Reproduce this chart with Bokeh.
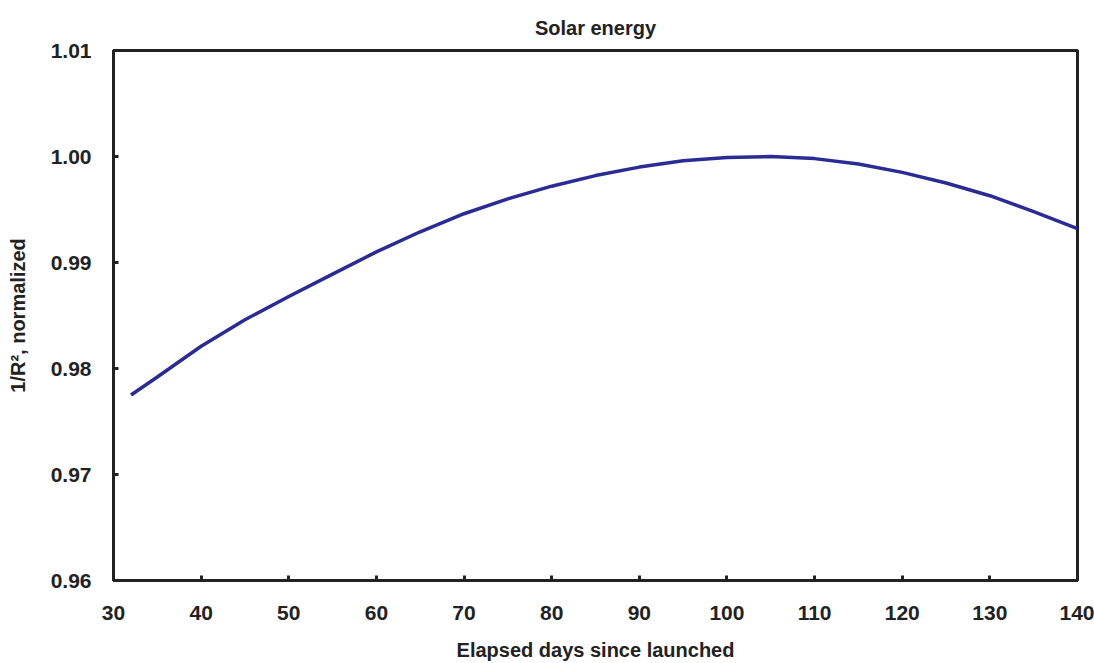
from bokeh.plotting import figure
from bokeh.models import Range1d, FixedTicker
from bokeh.embed import file_html
from bokeh.resources import INLINE

# Data
days = [32.0, 35, 40, 45, 50, 55, 60, 65, 70, 75, 80, 85, 90, 95, 100,
        105, 110, 115, 120, 125, 130, 135, 140]
solar = [0.9775, 0.9792, 0.9821, 0.9846, 0.9868, 0.9889, 0.9910, 0.9929,
         0.9946, 0.9960, 0.9972, 0.9982, 0.9990, 0.9996, 0.9999,
         1.0000, 0.9998, 0.9993, 0.9985, 0.9975, 0.9963, 0.9948, 0.9932]
x_ticks = [30, 40, 50, 60, 70, 80, 90, 100, 110, 120, 130, 140]
y_ticks = [0.96, 0.97, 0.98, 0.99, 1.00, 1.01]
y_labels = {0.96: "0.96", 0.97: "0.97", 0.98: "0.98", 0.99: "0.99", 1.00: "1.00", 1.01: "1.01"}

FONT = "Liberation Sans"

p = figure(width=1094, height=663, output_backend="svg", toolbar_location=None,
           x_range=Range1d(30, 140), y_range=Range1d(0.96, 1.01),
           min_border_left=113, min_border_right=17, min_border_top=50,
           min_border_bottom=83, title="Solar energy")

p.line(days, solar, line_color="#2b2b95", line_width=3.5, line_join="round")

p.title.align = "center"
p.title.text_font = FONT
p.title.text_font_size = "20px"
p.title.text_font_style = "bold"
p.title.text_color = "#222222"
p.title.standoff = 24

p.grid.visible = False
p.outline_line_color = "#222222"
p.outline_line_width = 3
p.outline_line_alpha = 1.0
p.background_fill_color = "white"
p.border_fill_color = "white"

for ax in (p.xaxis[0], p.yaxis[0]):
    ax.axis_line_color = "#222222"
    ax.axis_line_width = 3
    ax.major_tick_line_color = "#222222"
    ax.major_tick_line_width = 3
    ax.major_tick_in = 5
    ax.major_tick_out = 0
    ax.minor_tick_line_color = None
    ax.major_label_text_font = FONT
    ax.major_label_text_font_style = "bold"
    ax.major_label_text_font_size = "21px"
    ax.major_label_text_color = "#222222"
    ax.axis_label_text_font = FONT
    ax.axis_label_text_font_style = "bold"
    ax.axis_label_text_font_size = "20px"
    ax.axis_label_text_color = "#222222"

p.xaxis.ticker = FixedTicker(ticks=x_ticks)
p.yaxis.ticker = FixedTicker(ticks=y_ticks)
p.yaxis.major_label_overrides = y_labels
p.xaxis.major_label_standoff = 25
p.yaxis.major_label_standoff = 22
p.xaxis.axis_label = "Elapsed days since launched"
p.yaxis.axis_label = "1/R\u00b2, normalized"
p.xaxis.axis_label_standoff = 16
p.yaxis.axis_label_standoff = 19

open("out.html", "w").write(file_html(p, INLINE))
